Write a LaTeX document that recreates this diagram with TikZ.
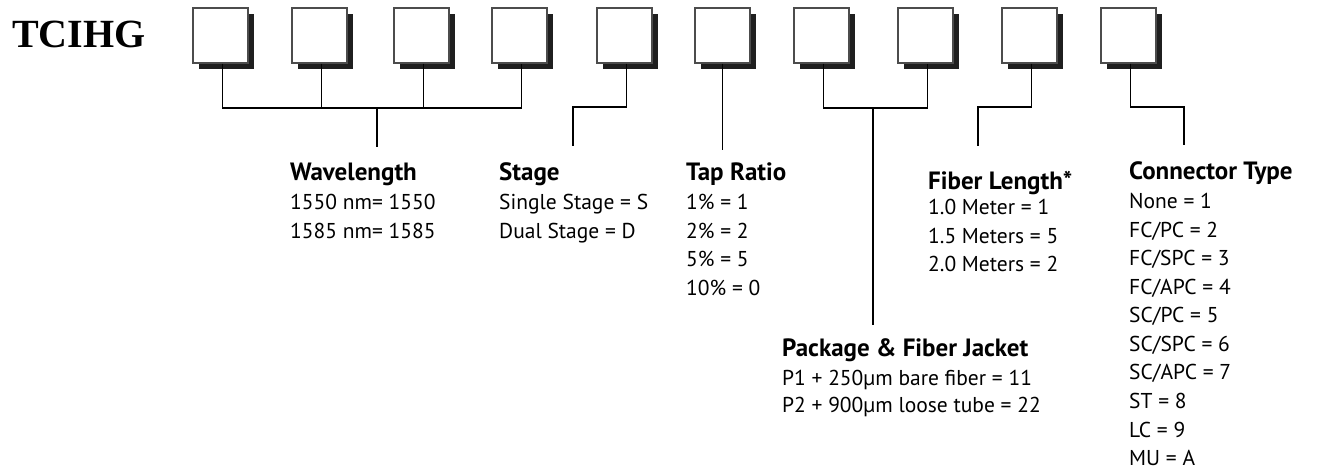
\documentclass[tikz,border=0pt]{standalone}
\usepackage{fontspec}
\setmainfont{PT Sans}
\newfontfamily\titfont{Liberation Serif}
\usetikzlibrary{shadows}
\tikzset{
  pole/.style={rectangle,draw=black!70,fill=white,line width=1.2pt,minimum size=55pt,inner sep=0pt,
    drop shadow={shadow xshift=6pt,shadow yshift=-6pt,fill=black!88,opacity=1}},
  spoj/.style={line width=1.2pt},
  nadpis/.style={anchor=base west,inner sep=0pt,font=\fontsize{25}{28}\selectfont\bfseries},
  polozka/.style={anchor=base west,inner sep=0pt,font=\fontsize{21.5}{24}\selectfont},
}

\begin{document}
\begin{tikzpicture}[x=1pt,y=-1pt]
  \useasboundingbox (0,0) rectangle (1318,470);
  \node[anchor=base west,inner sep=0pt,font=\titfont\bfseries\fontsize{40}{44}\selectfont] (kod) at (12,48) {TCIHG};
  % policka kodu
  \foreach \x [count=\i] in {220.5,319.5,421.5,519.5,624.5,722.5,821.5,925.5,1029.5,1128.5}
    \node[pole] (p\i) at (\x,35.5) {};
  % spojnice
  \coordinate (wlj) at (377,108); \coordinate (wl) at (377,147);
  \coordinate (stj) at (573,107); \coordinate (st) at (573,146);
  \coordinate (tp) at (723,150);
  \coordinate (pkj) at (873,108); \coordinate (pk) at (873,325);
  \coordinate (flj) at (978,107); \coordinate (fl) at (978,146);
  \coordinate (ctj) at (1184,107); \coordinate (ct) at (1184,145);
  \draw[spoj] ([xshift=2pt]p1.south) |- (wlj) -| ([xshift=2pt]p4.south);
  \foreach \i in {2,3} \draw[spoj] ([xshift=2pt]p\i.south) -- ([xshift=2pt]p\i.south |- wlj);
  \draw[spoj] (wlj) -- (wl);
  \draw[spoj] ([xshift=2pt]p5.south) |- (stj) -- (st);
  \draw[spoj] (p6.south) -- (p6.south |- tp);
  \draw[spoj] ([xshift=2pt]p7.south) |- (pkj) -| ([xshift=2pt]p8.south);
  \draw[spoj] (pkj) -- (pk);
  \draw[spoj] ([xshift=2pt]p9.south) |- (flj) -- (fl);
  \draw[spoj] ([xshift=2pt]p10.south) |- (ctj) -- (ct);
  % popisy
  \node[nadpis] (hwl) at (290,181) {Wavelength};
  \foreach \t [count=\i from 0] in {1550 nm= 1550,1585 nm= 1585}
    \node[polozka] (wl\i) at (290,{210+28.5*\i}) {\t};
  \node[nadpis] (hst) at (499,181) {Stage};
  \foreach \t [count=\i from 0] in {Single Stage = S,Dual Stage = D}
    \node[polozka] (st\i) at (499,{210+28.5*\i}) {\t};
  \node[nadpis] (htp) at (686,181) {Tap Ratio};
  \foreach \t [count=\i from 0] in {1\% = 1,2\% = 2,5\% = 5,10\% = 0}
    \node[polozka] (tp\i) at (686,{210+28.5*\i}) {\t};
  \node[nadpis] (hpk) at (782,357) {Package \& Fiber Jacket};
  \foreach \t [count=\i from 0] in {P1 + 250µm bare fiber = 11,P2 + 900µm loose tube = 22}
    \node[polozka] (pk\i) at (782,{385+27.5*\i}) {\t};
  \node[nadpis] (hfl) at (928,190) {Fiber Length*};
  \foreach \t [count=\i from 0] in {1.0 Meter = 1,1.5 Meters = 5,2.0 Meters = 2}
    \node[polozka] (fl\i) at (928,{215+28.5*\i}) {\t};
  \node[nadpis] (hct) at (1129,180) {Connector Type};
  \foreach \t [count=\i from 0] in {None = 1,FC/PC = 2,FC/SPC = 3,FC/APC = 4,SC/PC = 5,SC/SPC = 6,SC/APC = 7,ST = 8,LC = 9,MU = A}
    \node[polozka] (ct\i) at (1129,{209+28.5*\i}) {\t};
\end{tikzpicture}
\end{document}
